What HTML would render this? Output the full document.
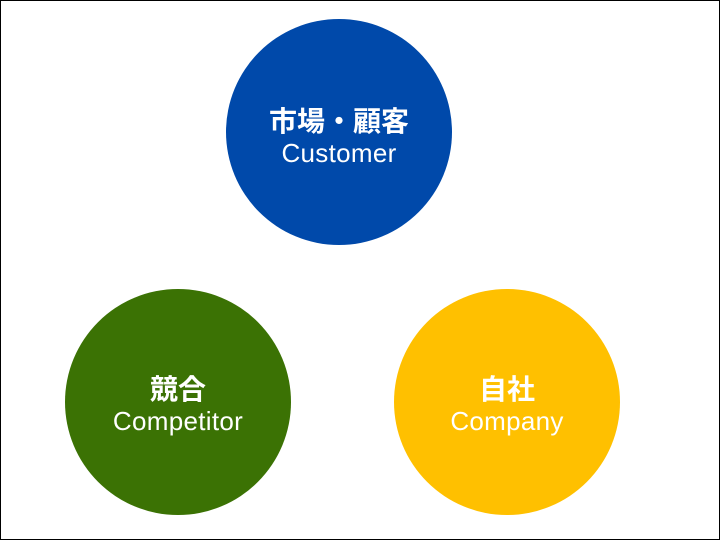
<!DOCTYPE html>
<html><head><meta charset="utf-8"><style>
html,body{margin:0;padding:0}
body{width:720px;height:540px;position:relative;background:#fff;overflow:hidden;font-family:"Liberation Sans","Noto Sans CJK JP",sans-serif}
.frame{position:absolute;left:0;top:0;width:718px;height:538px;border:1px solid #000}
.c{position:absolute;width:226px;height:226px;border-radius:50%;color:#fff;text-align:center}
.j{position:absolute;left:-20px;right:-20px;font-weight:bold;font-size:28px;line-height:32px}
.e{position:absolute;left:-20px;right:-20px;font-size:26px;line-height:30px;letter-spacing:0.3px}
</style></head><body>
<div class="frame"></div>
<div class="c" style="left:226px;top:19px;background:#0049AA">
<div class="j" style="top:87px">市場・顧客</div><div class="e" style="top:119px">Customer</div></div>
<div class="c" style="left:65px;top:289px;background:#3B7204">
<div class="j" style="top:85px">競合</div><div class="e" style="top:117px">Competitor</div></div>
<div class="c" style="left:394px;top:289px;background:#FFC000">
<div class="j" style="top:85px">自社</div><div class="e" style="top:117px">Company</div></div>
</body></html>
